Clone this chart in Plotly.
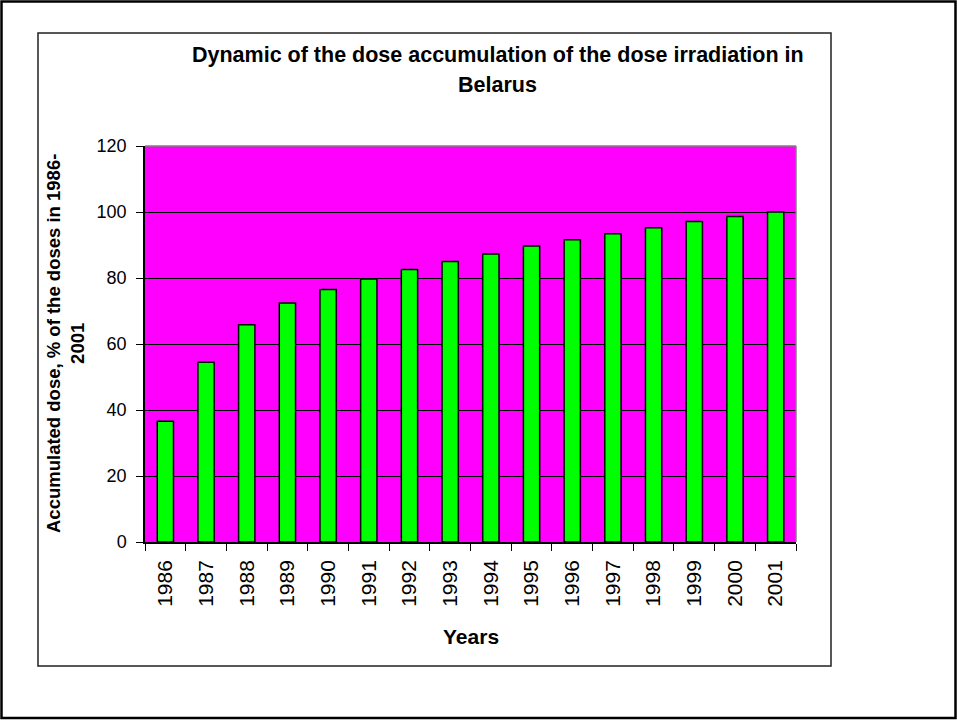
import plotly.graph_objects as go

years = ["1986", "1987", "1988", "1989", "1990", "1991", "1992", "1993",
         "1994", "1995", "1996", "1997", "1998", "1999", "2000", "2001"]
accumulated = [36.6, 54.5, 65.8, 72.4, 76.5, 79.7, 82.6, 85.0,
               87.3, 89.7, 91.6, 93.4, 95.2, 97.1, 98.6, 100.0]
y_ticks = [0, 20, 40, 60, 80, 100, 120]

title_line1 = "Dynamic of the dose accumulation of the dose irradiation in"
title_line2 = "Belarus"
y_title = "Accumulated dose, % of the doses in 1986-<br>2001"
x_title = "Years"

W, H = 957, 720
L, R, T, B = 145, 796, 146, 542
FONT = "Arial, Liberation Sans, sans-serif"


def px(x):
    return (x - L) / (R - L)


def py(y):
    return (B - y) / (B - T)


fig = go.Figure()
fig.add_trace(go.Bar(
    x=years, y=accumulated,
    marker=dict(color="#00FF00", line=dict(color="black", width=1.5)),
))

shapes = [
    # outer image border
    dict(type="rect", xref="paper", yref="paper",
         x0=px(1.5), x1=px(955.5), y0=py(718), y1=py(1.5),
         line=dict(color="black", width=2.5), layer="below"),
    # chart area frame
    dict(type="rect", xref="paper", yref="paper",
         x0=px(38), x1=px(831), y0=py(666), y1=py(33),
         line=dict(color="#202020", width=1.5), layer="below"),
    # plot area top & right border (gray)
    dict(type="line", xref="paper", yref="paper", x0=0, x1=1, y0=1, y1=1,
         line=dict(color="#808080", width=1.5)),
    dict(type="line", xref="paper", yref="paper", x0=1, x1=1, y0=0, y1=1,
         line=dict(color="#808080", width=1.5)),
]

annotations = [
    dict(text="<b>" + title_line1 + "</b>", xref="paper", yref="paper",
         x=px(498), y=py(55), showarrow=False, xanchor="center", yanchor="middle",
         font=dict(family=FONT, size=21.5, color="black")),
    dict(text="<b>" + title_line2 + "</b>", xref="paper", yref="paper",
         x=px(498), y=py(85), showarrow=False, xanchor="center", yanchor="middle",
         font=dict(family=FONT, size=21.5, color="black")),
    dict(text="<b>" + y_title + "</b>", xref="paper", yref="paper",
         x=px(65), y=py(344), showarrow=False, textangle=-90,
         xanchor="center", yanchor="middle",
         font=dict(family=FONT, size=18.5, color="black")),
    dict(text="<b>" + x_title + "</b>", xref="paper", yref="paper",
         x=px(471), y=py(636), showarrow=False, xanchor="center", yanchor="middle",
         font=dict(family=FONT, size=21, color="black")),
]

fig.update_layout(
    width=W, height=H,
    margin=dict(l=L, r=W - R, t=T, b=H - B, pad=0),
    paper_bgcolor="white",
    plot_bgcolor="#FF00FF",
    showlegend=False,
    bargap=0.6,
    shapes=shapes,
    annotations=annotations,
    font=dict(family=FONT, color="black"),
)

fig.update_xaxes(
    type="category",
    tickson="boundaries",
    ticks="outside", ticklen=7, tickcolor="black", tickwidth=1,
    tickangle=-90,
    tickfont=dict(family=FONT, size=21, color="black"),
    showline=True, linecolor="black", linewidth=1.5,
    showgrid=False, zeroline=False,
    ticklabelstandoff=8,
)

fig.update_yaxes(
    range=[0, 120],
    tickvals=y_ticks,
    ticktext=[str(v) for v in y_ticks],
    ticks="outside", ticklen=7, tickcolor="black", tickwidth=1,
    tickfont=dict(family=FONT, size=18, color="black"),
    showline=True, linecolor="black", linewidth=1.5,
    showgrid=True, gridcolor="black", gridwidth=1,
    zeroline=False,
    ticklabelstandoff=6,
)

fig.write_html(
    "out.html",
    config={"displayModeBar": False},
    post_script="document.body.style.margin='0';document.body.style.padding='0';"
                "document.body.style.overflow='hidden';",
)
